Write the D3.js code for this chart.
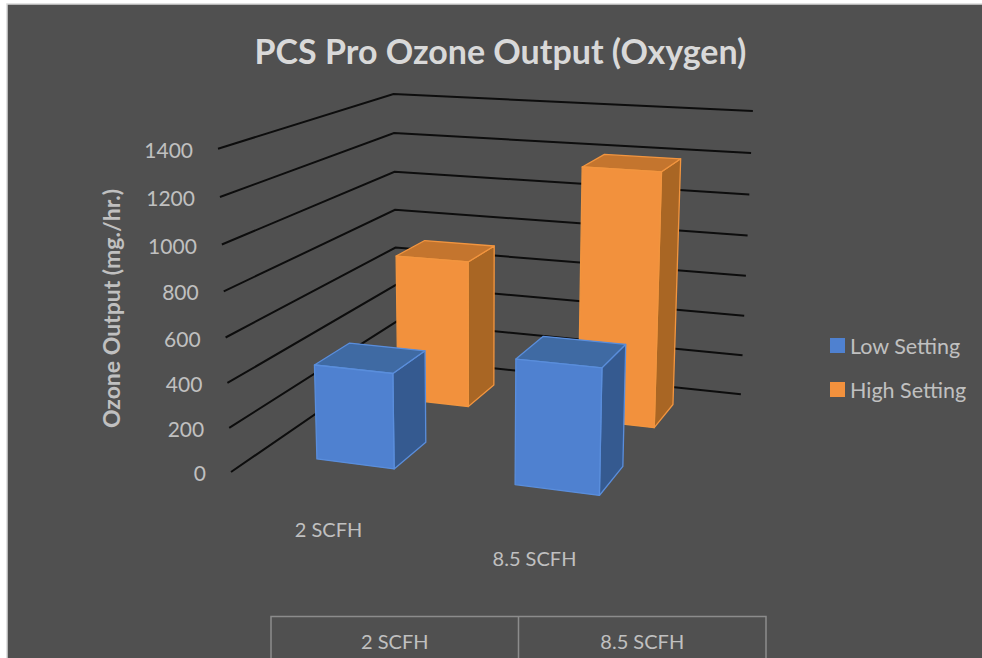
<!DOCTYPE html>
<html>
<head>
<meta charset="utf-8">
<script src="https://cdnjs.cloudflare.com/ajax/libs/d3/7.8.5/d3.min.js"></script>
<style>
html,body{margin:0;padding:0;background:#fff;overflow:hidden}
svg{display:block}
text{font-family:Lato,"Open Sans",sans-serif}
</style>
</head>
<body>
<svg id="chart" width="982" height="658"></svg>
<script>
const categories = ["2 SCFH", "8.5 SCFH"];
const seriesNames = ["Low Setting", "High Setting"];
const lowSetting = [430, 550];
const highSetting = [715, 1200];
const valueTicks = [0, 200, 400, 600, 800, 1000, 1200, 1400];

const W = 982, H = 658;
const svg = d3.select("#chart");

svg.append("rect").attr("x", 7).attr("y", 4).attr("width", W).attr("height", H)
  .attr("fill", "#505050").attr("stroke", "#d9d9d9").attr("stroke-width", 1.5);

// Three-vanishing-point camera: unit cube (X across, Y up, Z into the picture) -> page pixels
const cam = {
  origin: [231, 472],
  vx: [-4153, -120, -0.0868],
  vy: [478, 6614, -0.05],
  vz: [1103, -127, 0.235]
};
function project(X, Y, Z) {
  const A = cam.vx[2] * X, B = cam.vy[2] * Y, C = cam.vz[2] * Z;
  const w = 1 + A + B + C;
  return [
    (A * cam.vx[0] + B * cam.vy[0] + C * cam.vz[0] + cam.origin[0]) / w,
    (A * cam.vx[1] + B * cam.vy[1] + C * cam.vz[1] + cam.origin[1]) / w
  ];
}

const yScale = d3.scaleLinear().domain([0, 1400]).range([0, 1]);
const xBand = d3.scaleBand().domain(categories).range([0, 1]).paddingInner(0.6).paddingOuter(0.3);
const zBand = d3.scaleBand().domain(seriesNames).range([0, 1]).paddingInner(0.6).paddingOuter(0.3);

// gridlines along left and back walls
const line = d3.line();
svg.append("g").selectAll("path").data(valueTicks).join("path")
  .attr("d", v => {
    const y = yScale(v);
    return line([project(0, y, 0), project(0, y, 1), project(1, y, 1)]);
  })
  .attr("fill", "none").attr("stroke", "#0d0d0d").attr("stroke-width", 2);

// value axis labels
svg.append("g").selectAll("text").data(valueTicks).join("text")
  .attr("x", v => project(0, yScale(v), 0)[0] - 25)
  .attr("y", v => project(0, yScale(v), 0)[1] + 9)
  .attr("text-anchor", "end")
  .attr("font-size", 21).attr("fill", "#c0c0c0")
  .text(d => d);

// bars, painted back to front
const palettes = {
  "Low Setting": {front: "#4f81d0", top: "#3f6aa3", side: "#355a90", edge: "#5a8edc"},
  "High Setting": {front: "#f2913d", top: "#c4752e", side: "#a96624", edge: "#f2953f"}
};
const barData = [];
[[seriesNames[1], highSetting], [seriesNames[0], lowSetting]].forEach(([s, vals]) => {
  categories.forEach((c, i) => barData.push({series: s, category: c, value: vals[i]}));
});
const bars = svg.append("g").selectAll("g").data(barData).join("g");
bars.each(function(d) {
  const g = d3.select(this), p = palettes[d.series];
  const x0 = xBand(d.category), x1 = x0 + xBand.bandwidth();
  const z0 = zBand(d.series), z1 = z0 + zBand.bandwidth();
  const y = yScale(d.value);
  const face = (pts, fill) => g.append("path")
    .attr("d", line(pts) + "Z").attr("fill", fill)
    .attr("stroke", p.edge).attr("stroke-width", 1.3).attr("stroke-linejoin", "round");
  face([project(x1, 0, z0), project(x1, 0, z1), project(x1, y, z1), project(x1, y, z0)], p.side);
  face([project(x0, y, z0), project(x1, y, z0), project(x1, y, z1), project(x0, y, z1)], p.top);
  face([project(x0, 0, z0), project(x1, 0, z0), project(x1, y, z0), project(x0, y, z0)], p.front);
});

// title
svg.append("text").attr("x", 500.5).attr("y", 64).attr("text-anchor", "middle")
  .attr("font-size", 34).attr("font-weight", 700).attr("fill", "#d9d9d9")
  .text("PCS Pro Ozone Output (Oxygen)");

// axis title
svg.append("text").attr("transform", "translate(120,308.5) rotate(-90)")
  .attr("text-anchor", "middle").attr("font-size", 23).attr("font-weight", 700)
  .attr("fill", "#c0c0c0").text("Ozone Output (mg./hr.)");

// category labels under the floor
const catLabelPos = [[328.5, 537], [534.5, 566]];
svg.append("g").selectAll("text").data(categories).join("text")
  .attr("x", (d, i) => catLabelPos[i][0]).attr("y", (d, i) => catLabelPos[i][1])
  .attr("text-anchor", "middle").attr("font-size", 20).attr("fill", "#c0c0c0").text(d => d);

// data table header, cut off at the bottom of the picture
const tableX = d3.scalePoint().domain(d3.range(categories.length + 1)).range([271, 766]);
svg.append("path")
  .attr("d", `M${tableX(0)},${H}V616.5H${tableX(2)}V${H}M${tableX(1)},616.5V${H}`)
  .attr("fill", "none").attr("stroke", "#8c8c8c").attr("stroke-width", 1.5);
svg.append("g").selectAll("text").data(categories).join("text")
  .attr("x", (d, i) => (tableX(i) + tableX(i + 1)) / 2).attr("y", 649)
  .attr("text-anchor", "middle").attr("font-size", 20).attr("fill", "#c0c0c0").text(d => d);

// legend
const legendY = d3.scalePoint().domain(seriesNames).range([346, 390]);
const legend = svg.append("g").selectAll("g").data(seriesNames).join("g")
  .attr("transform", d => `translate(830,${legendY(d)})`);
legend.append("rect").attr("x", 0).attr("y", -8).attr("width", 15).attr("height", 15)
  .attr("fill", d => palettes[d].front);
legend.append("text").attr("x", 20).attr("y", 8).attr("font-size", 21.5)
  .attr("fill", "#c0c0c0").text(d => d);
</script>
</body>
</html>
